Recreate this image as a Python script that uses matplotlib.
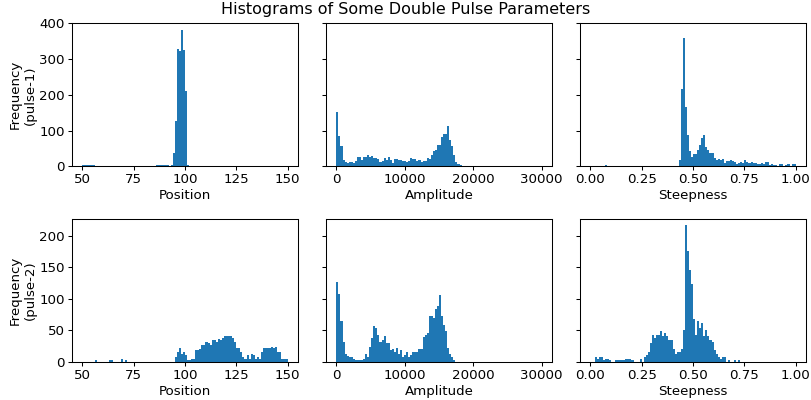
import numpy as np
import matplotlib
matplotlib.use("Agg")
import matplotlib.pyplot as plt

# bin counts, 100 bins per histogram
# position, 50..150, bin width 1
position_1 = [3, 3, 3, 5, 5, 3, 0, 0, 0, 0,
              0, 0, 0, 0, 0, 0, 0, 2, 0, 0,
              0, 0, 0, 0, 2, 2, 0, 0, 0, 0,
              0, 0, 0, 0, 0, 0, 5, 5, 5, 5,
              3, 3, 0, 3, 37, 128, 327, 322, 381, 324,
              212, 5, 0, 0, 0, 0, 0, 0, 0, 0,
              0, 0, 0, 0, 0, 0, 0, 0, 0, 0,
              0, 0, 0, 0, 0, 0, 0, 0, 0, 0,
              0, 0, 0, 0, 0, 0, 0, 0, 0, 0,
              0, 0, 0, 0, 0, 0, 0, 0, 0, 0]
position_2 = [0, 0, 0, 0, 0, 0, 2, 0, 0, 0,
              0, 0, 0, 2, 2, 0, 0, 0, 0, 4,
              0, 2, 0, 0, 0, 0, 0, 0, 0, 0,
              0, 0, 0, 0, 0, 0, 0, 0, 0, 0,
              0, 0, 0, 0, 0, 8, 16, 21, 13, 16,
              10, 3, 2, 5, 5, 18, 18, 20, 27, 26,
              31, 29, 26, 35, 34, 32, 36, 35, 38, 40,
              40, 40, 40, 37, 31, 21, 21, 15, 8, 5,
              10, 5, 12, 10, 5, 8, 5, 16, 21, 21,
              21, 21, 24, 21, 23, 16, 15, 5, 5, 4]

# amplitude, 0..30000, bin width 300
amplitude_1 = [153, 86, 56, 17, 11, 8, 11, 11, 8, 14,
               25, 25, 18, 25, 25, 31, 25, 28, 22, 22,
               20, 11, 14, 22, 17, 25, 17, 8, 20, 20,
               17, 17, 14, 14, 11, 14, 22, 20, 20, 14,
               17, 11, 14, 14, 22, 20, 31, 42, 47, 61,
               59, 81, 89, 89, 112, 73, 56, 31, 11, 6,
               3, 0, 0, 0, 0, 0, 0, 0, 0, 0,
               0, 0, 0, 0, 0, 0, 0, 0, 0, 0,
               0, 0, 0, 0, 0, 0, 0, 0, 0, 0,
               0, 0, 0, 0, 0, 0, 0, 0, 0, 0]
amplitude_2 = [127, 108, 64, 31, 13, 9, 7, 7, 5, 2,
               2, 2, 2, 4, 12, 7, 23, 37, 56, 53,
               43, 32, 35, 40, 29, 29, 18, 20, 15, 21,
               13, 18, 8, 10, 16, 8, 10, 15, 16, 15,
               20, 20, 39, 43, 45, 72, 72, 70, 83, 88,
               105, 73, 59, 48, 21, 12, 8, 2, 0, 0,
               0, 0, 0, 0, 0, 0, 0, 0, 0, 0,
               0, 0, 0, 0, 0, 0, 0, 0, 0, 0,
               0, 0, 0, 0, 0, 0, 0, 0, 0, 0,
               0, 0, 0, 0, 0, 0, 0, 0, 0, 0]

# steepness, 0..1, bin width 0.01
steepness_1 = [0, 0, 0, 0, 0, 0, 0, 3, 0, 0,
               0, 0, 0, 0, 0, 0, 0, 0, 0, 0,
               0, 0, 0, 0, 0, 0, 0, 0, 0, 0,
               0, 0, 0, 0, 0, 0, 0, 0, 0, 0,
               0, 0, 0, 17, 215, 360, 165, 87, 42, 25,
               34, 34, 45, 59, 78, 87, 53, 47, 36, 36,
               22, 17, 20, 17, 20, 8, 14, 14, 17, 14,
               11, 6, 8, 11, 8, 17, 11, 8, 11, 8,
               8, 6, 6, 8, 6, 11, 11, 3, 6, 3,
               3, 0, 6, 6, 0, 3, 6, 0, 6, 6]
steepness_2 = [0, 0, 8, 5, 7, 7, 2, 5, 5, 2,
               0, 0, 2, 2, 2, 2, 2, 4, 5, 5,
               2, 0, 0, 0, 4, 0, 7, 10, 16, 29,
               43, 37, 43, 42, 48, 40, 45, 40, 34, 34,
               20, 13, 16, 16, 20, 51, 216, 175, 145, 124,
               67, 43, 65, 54, 61, 40, 50, 40, 34, 31,
               18, 12, 8, 5, 8, 8, 0, 2, 0, 0,
               2, 0, 2, 0, 0, 0, 0, 0, 0, 0,
               0, 0, 0, 0, 0, 0, 0, 0, 0, 0,
               0, 0, 0, 0, 0, 0, 0, 0, 0, 0]

columns = ["Position", "Amplitude", "Steepness"]
ranges = [(50, 150), (0, 30000), (0, 1)]
xticks = [[50, 75, 100, 125, 150],
          [0, 10000, 20000, 30000],
          [0.0, 0.25, 0.5, 0.75, 1.0]]
rows = ["Frequency\n(pulse-1)", "Frequency\n(pulse-2)"]
yticks = [[0, 100, 200, 300, 400], [0, 50, 100, 150, 200]]


def draw_hist(ax, counts, lo, hi):
    edges = np.linspace(lo, hi, len(counts) + 1)
    ax.hist(edges[:-1], bins=edges, weights=counts, color="C0")


plt.rcParams["font.size"] = 9.6
plt.rcParams["axes.linewidth"] = 0.75
plt.rcParams["axes.labelpad"] = 2.0
for a in ["xtick", "ytick"]:
    plt.rcParams[a + ".major.size"] = 2.7
    plt.rcParams[a + ".major.width"] = 0.75
    plt.rcParams[a + ".major.pad"] = 2.4

fig, axes = plt.subplots(2, 3, figsize=(8.11, 4.0), dpi=100, sharey="row")

data = [[position_1, amplitude_1, steepness_1],
        [position_2, amplitude_2, steepness_2]]

for r in range(2):
    for c in range(3):
        ax = axes[r][c]
        lo, hi = ranges[c]
        draw_hist(ax, data[r][c], lo, hi)
        ax.set_xticks(xticks[c])
        ax.set_xlabel(columns[c])
    axes[r][0].set_yticks(yticks[r])
    axes[r][0].set_ylabel(rows[r])

fig.suptitle("Histograms of Some Double Pulse Parameters", y=0.995)
fig.subplots_adjust(left=0.0888, right=0.9938, top=0.9418, bottom=0.0957,
                    wspace=0.125, hspace=0.366)
fig.savefig("out.png", dpi=100)
